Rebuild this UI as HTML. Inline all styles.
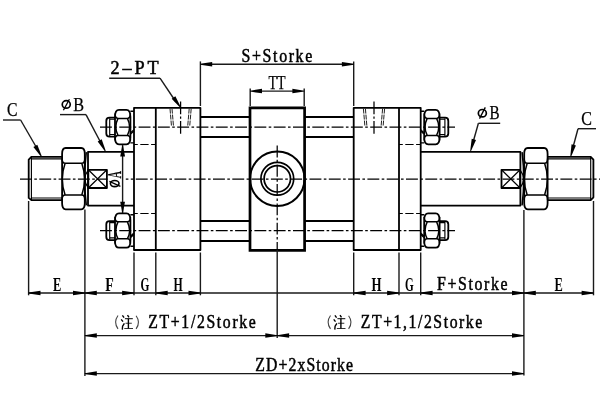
<!DOCTYPE html>
<html><head><meta charset="utf-8"><style>
html,body{margin:0;padding:0;background:#fff;}
svg{display:block;will-change:transform;}
.o{fill:none;stroke:#000;stroke-width:1.8;stroke-linejoin:round;}
.ot{fill:none;stroke:#000;stroke-width:2.7;}
.thin{fill:none;stroke:#000;stroke-width:0.9;}
.d{fill:none;stroke:#1a1a1a;stroke-width:1.4;}
.cl{fill:none;stroke:#000;stroke-width:1.25;stroke-dasharray:11.9 2.4 2.6 2.4;}
.hid{fill:none;stroke:#222;stroke-width:1;stroke-dasharray:5 1;}
.hd{fill:none;stroke:#000;stroke-width:1.15;stroke-dasharray:8.3 2.5;stroke-dashoffset:4.5;}
.ar{fill:#000;stroke:none;}
.t{font-family:"Liberation Serif",serif;fill:#000;stroke:#000;stroke-width:0.25;}
.tb{font-family:"Liberation Serif",serif;fill:#000;font-weight:bold;}
</style></head><body>
<svg width="600" height="418" viewBox="0 0 600 418">
<rect x="0" y="0" width="600" height="418" fill="#fff"/>

<line class="cl" x1="20" y1="179.1" x2="600" y2="179.1"/>
<line class="cl" x1="100" y1="127" x2="455" y2="127"/>
<line class="cl" x1="100" y1="230.5" x2="455" y2="230.5"/>
<path class="o" d="M62.1,156.8 H31.4 L28.7,159.7 V197.9 L31.4,200.1 H62.1"/>
<path class="o" style="stroke-width:1.15" d="M31.4,156.8 V200.1 M31.4,158.8 H62.1 M31.4,198 H62.1"/>
<path class="o" d="M65.6,148.0 H81.3 Q84.8,148.0 84.8,153.95 V203.35000000000002 Q84.8,209.3 81.3,209.3 H65.6 Q62.1,209.3 62.1,203.35000000000002 V153.95 Q62.1,148.0 65.6,148.0 Z"/>
<path class="o" style="stroke-width:1.5" d="M65.1,163.3 H81.8 M65.1,195.1 H81.8 M62.1,158.5 Q62.1,163.3 65.1,163.3 M84.8,158.5 Q84.8,163.3 81.8,163.3 M62.1,199.9 Q62.1,195.1 65.1,195.1 M84.8,199.9 Q84.8,195.1 81.8,195.1 M65.1,163.3 Q59.5,179.2 65.1,195.1 M81.8,163.3 Q87.39999999999999,179.2 81.8,195.1"/>
<path class="o" d="M134,151.8 H88 V205.6 H134"/>
<path class="o" style="stroke-width:1.5" d="M86.3,152.2 Q83.1,178.9 86.3,205.4"/>
<path class="o" d="M88.3,169.8 H106.9 V188 H88.3 Z"/>
<path class="o" style="stroke-width:1.2" d="M88.3,169.8 L106.9,188 M106.9,169.8 L88.3,188 M88.3,169.8 Q81.5,178.9 88.3,188"/>
<rect x="107.9" y="177.4" width="17.9" height="3.4" fill="#fff"/>
<line class="d" x1="122.6" y1="144.5" x2="122.6" y2="213.4"/>
<polygon class="ar" points="123.05,146.00 125.00,156.50 120.20,156.50 122.15,146.00"/>
<polygon class="ar" points="122.15,212.30 120.20,201.80 125.00,201.80 123.05,212.30"/>
<g transform="translate(121,187) rotate(-90)"><ellipse cx="3.45" cy="-6.3" rx="3.1" ry="4.3" fill="none" stroke="#000" stroke-width="1.6"/><line x1="0.6" y1="-0.6" x2="5.6" y2="-11.6" stroke="#000" stroke-width="1.2"/><text class="t" x="8.4" y="-0.2" font-size="18.5" textLength="7.6" lengthAdjust="spacingAndGlyphs">A</text></g>
<path class="o" d="M134,107.8 H200.4 V250 H134 Z"/>
<line class="o" x1="155.8" y1="107.8" x2="155.8" y2="250"/>
<line class="hd" x1="134" y1="144.5" x2="155.8" y2="144.5"/>
<line class="hd" x1="134" y1="213.5" x2="155.8" y2="213.5"/>
<path class="hid" d="M170.0,108.6 L171.5,126.3 M172.0,108.6 L173.5,126.3"/>
<path class="hid" d="M189.2,108.6 L187.7,126.3 M191.2,108.6 L189.7,126.3"/>
<line class="cl" x1="180.6" y1="101.5" x2="180.6" y2="133.8" style="stroke-dasharray:12.8 2.2 2.2 2.2 20"/>
<path class="o" style="stroke-width:1.4" d="M130.4,111.3 H134 M130.4,142.9 H134"/>
<path class="o" style="stroke-width:1.2" d="M130.6,132.6 L134,129.6 M130.6,134.1 L134,131.1"/>
<path class="o" d="M119,109.89999999999999 H126.4 Q130.4,109.89999999999999 130.4,116.69999999999999 V137.49999999999997 Q130.4,144.29999999999998 126.4,144.29999999999998 H119 Q115,144.29999999999998 115,137.49999999999997 V116.69999999999999 Q115,109.89999999999999 119,109.89999999999999 Z"/>
<path class="o" style="stroke-width:1.5" d="M118,118.39999999999999 H127.4 M118,135.4 H127.4 M115,113.6 Q115,118.39999999999999 118,118.39999999999999 M130.4,113.6 Q130.4,118.39999999999999 127.4,118.39999999999999 M115,140.20000000000002 Q115,135.4 118,135.4 M130.4,140.20000000000002 Q130.4,135.4 127.4,135.4 M118,118.39999999999999 Q113.6,127.1 118,135.4 M127.4,118.39999999999999 Q131.8,127.1 127.4,135.4"/>
<path class="o" d="M115.2,117.69999999999999 H109.5 Q106.3,117.69999999999999 106.3,120.89999999999999 V133.5 Q106.3,136.7 109.5,136.7 H115.2"/>
<path class="o" style="stroke-width:1.15" d="M109.7,118.29999999999998 V136.1 M109.7,119.19999999999999 H115.2 M109.7,134.5 H115.2"/>
<path class="o" style="stroke-width:1.4" d="M130.4,214.7 H134 M130.4,246.3 H134"/>
<path class="o" style="stroke-width:1.2" d="M130.6,236.0 L134,233.0 M130.6,237.5 L134,234.5"/>
<path class="o" d="M119,213.3 H126.4 Q130.4,213.3 130.4,220.10000000000002 V240.89999999999998 Q130.4,247.7 126.4,247.7 H119 Q115,247.7 115,240.89999999999998 V220.10000000000002 Q115,213.3 119,213.3 Z"/>
<path class="o" style="stroke-width:1.5" d="M118,221.8 H127.4 M118,238.8 H127.4 M115,217.0 Q115,221.8 118,221.8 M130.4,217.0 Q130.4,221.8 127.4,221.8 M115,243.60000000000002 Q115,238.8 118,238.8 M130.4,243.60000000000002 Q130.4,238.8 127.4,238.8 M118,221.8 Q113.6,230.5 118,238.8 M127.4,221.8 Q131.8,230.5 127.4,238.8"/>
<path class="o" d="M115.2,221.1 H109.5 Q106.3,221.1 106.3,224.29999999999998 V236.9 Q106.3,240.1 109.5,240.1 H115.2"/>
<path class="o" style="stroke-width:1.15" d="M109.7,221.7 V239.5 M109.7,222.6 H115.2 M109.7,237.9 H115.2"/>
<line class="o" x1="200.4" y1="117" x2="250" y2="117"/>
<line class="o" x1="200.4" y1="137" x2="250" y2="137"/>
<line class="o" x1="200.4" y1="221" x2="250" y2="221"/>
<line class="o" x1="200.4" y1="241" x2="250" y2="241"/>
<line class="o" x1="305" y1="117" x2="353.7" y2="117"/>
<line class="o" x1="305" y1="137" x2="353.7" y2="137"/>
<line class="o" x1="305" y1="221" x2="353.7" y2="221"/>
<line class="o" x1="305" y1="241" x2="353.7" y2="241"/>
<path class="ot" d="M250,107.8 H304.6 V250.3 H250 Z"/>
<circle class="o" cx="277.3" cy="178.8" r="27.2" style="stroke-width:2"/>
<circle class="ot" cx="277.3" cy="178.8" r="16.4" style="stroke-width:1.7"/>
<circle class="ot" cx="277.3" cy="178.8" r="13.2" style="stroke-width:1.7"/>
<line class="cl" x1="277.2" y1="145.5" x2="277.2" y2="250"/>
<line class="d" x1="277.2" y1="250" x2="277.2" y2="338"/>
<path class="o" d="M353.7,107.8 H420.7 V250 H353.7 Z"/>
<line class="o" x1="399" y1="107.8" x2="399" y2="250"/>
<line class="hd" x1="399" y1="144.5" x2="420.7" y2="144.5"/>
<line class="hd" x1="399" y1="213.5" x2="420.7" y2="213.5"/>
<path class="hid" d="M363.4,108.6 L364.9,126.3 M365.4,108.6 L366.9,126.3"/>
<path class="hid" d="M382.6,108.6 L381.1,126.3 M384.6,108.6 L383.1,126.3"/>
<line class="cl" x1="374" y1="101.5" x2="374" y2="133.8" style="stroke-dasharray:12.8 2.2 2.2 2.2 20"/>
<path class="o" style="stroke-width:1.4" d="M130.4,111.3 H134 M130.4,142.9 H134" transform="translate(554.6,0) scale(-1,1)"/>
<path class="o" style="stroke-width:1.2" d="M130.6,132.6 L134,129.6 M130.6,134.1 L134,131.1" transform="translate(554.6,0) scale(-1,1)"/>
<path class="o" d="M119,109.89999999999999 H126.4 Q130.4,109.89999999999999 130.4,116.69999999999999 V137.49999999999997 Q130.4,144.29999999999998 126.4,144.29999999999998 H119 Q115,144.29999999999998 115,137.49999999999997 V116.69999999999999 Q115,109.89999999999999 119,109.89999999999999 Z" transform="translate(554.6,0) scale(-1,1)"/>
<path class="o" style="stroke-width:1.5" d="M118,118.39999999999999 H127.4 M118,135.4 H127.4 M115,113.6 Q115,118.39999999999999 118,118.39999999999999 M130.4,113.6 Q130.4,118.39999999999999 127.4,118.39999999999999 M115,140.20000000000002 Q115,135.4 118,135.4 M130.4,140.20000000000002 Q130.4,135.4 127.4,135.4 M118,118.39999999999999 Q113.6,127.1 118,135.4 M127.4,118.39999999999999 Q131.8,127.1 127.4,135.4" transform="translate(554.6,0) scale(-1,1)"/>
<path class="o" d="M115.2,117.69999999999999 H109.5 Q106.3,117.69999999999999 106.3,120.89999999999999 V133.5 Q106.3,136.7 109.5,136.7 H115.2" transform="translate(554.6,0) scale(-1,1)"/>
<path class="o" style="stroke-width:1.15" d="M109.7,118.29999999999998 V136.1 M109.7,119.19999999999999 H115.2 M109.7,134.5 H115.2" transform="translate(554.6,0) scale(-1,1)"/>
<path class="o" style="stroke-width:1.4" d="M130.4,214.7 H134 M130.4,246.3 H134" transform="translate(554.6,0) scale(-1,1)"/>
<path class="o" style="stroke-width:1.2" d="M130.6,236.0 L134,233.0 M130.6,237.5 L134,234.5" transform="translate(554.6,0) scale(-1,1)"/>
<path class="o" d="M119,213.3 H126.4 Q130.4,213.3 130.4,220.10000000000002 V240.89999999999998 Q130.4,247.7 126.4,247.7 H119 Q115,247.7 115,240.89999999999998 V220.10000000000002 Q115,213.3 119,213.3 Z" transform="translate(554.6,0) scale(-1,1)"/>
<path class="o" style="stroke-width:1.5" d="M118,221.8 H127.4 M118,238.8 H127.4 M115,217.0 Q115,221.8 118,221.8 M130.4,217.0 Q130.4,221.8 127.4,221.8 M115,243.60000000000002 Q115,238.8 118,238.8 M130.4,243.60000000000002 Q130.4,238.8 127.4,238.8 M118,221.8 Q113.6,230.5 118,238.8 M127.4,221.8 Q131.8,230.5 127.4,238.8" transform="translate(554.6,0) scale(-1,1)"/>
<path class="o" d="M115.2,221.1 H109.5 Q106.3,221.1 106.3,224.29999999999998 V236.9 Q106.3,240.1 109.5,240.1 H115.2" transform="translate(554.6,0) scale(-1,1)"/>
<path class="o" style="stroke-width:1.15" d="M109.7,221.7 V239.5 M109.7,222.6 H115.2 M109.7,237.9 H115.2" transform="translate(554.6,0) scale(-1,1)"/>
<path class="o" d="M187.7,151.8 H88 V205.6 H187.7" transform="translate(608.4,0) scale(-1,1)"/>
<path class="o" style="stroke-width:1.5" d="M86.3,152.2 Q83.1,178.9 86.3,205.4" transform="translate(608.4,0) scale(-1,1)"/>
<path class="o" d="M88.3,169.8 H106.9 V188 H88.3 Z" transform="translate(608.4,0) scale(-1,1)"/>
<path class="o" style="stroke-width:1.2" d="M88.3,169.8 L106.9,188 M106.9,169.8 L88.3,188 M88.3,169.8 Q81.5,178.9 88.3,188" transform="translate(608.4,0) scale(-1,1)"/>
<path class="o" d="M527.7,148.0 H544.1 Q547.6,148.0 547.6,153.95 V203.35000000000002 Q547.6,209.3 544.1,209.3 H527.7 Q524.2,209.3 524.2,203.35000000000002 V153.95 Q524.2,148.0 527.7,148.0 Z"/>
<path class="o" style="stroke-width:1.5" d="M527.2,163.3 H544.6 M527.2,195.1 H544.6 M524.2,158.5 Q524.2,163.3 527.2,163.3 M547.6,158.5 Q547.6,163.3 544.6,163.3 M524.2,199.9 Q524.2,195.1 527.2,195.1 M547.6,199.9 Q547.6,195.1 544.6,195.1 M527.2,163.3 Q521.6,179.2 527.2,195.1 M544.6,163.3 Q550.2,179.2 544.6,195.1"/>
<path class="o" d="M547.6,156.8 H590.7 L593.4,159.7 V197.3 L590.7,200.1 H547.6"/>
<path class="o" style="stroke-width:1.15" d="M590.7,156.8 V200.1 M547.6,158.8 H590.7 M547.6,198 H590.7"/>
<line class="d" x1="200.4" y1="61.4" x2="200.4" y2="106"/>
<line class="d" x1="353.7" y1="61.4" x2="353.7" y2="106"/>
<line class="d" x1="211" y1="64.3" x2="343" y2="64.3"/>
<polygon class="ar" points="200.20,63.85 212.20,62.05 212.20,66.55 200.20,64.75"/>
<polygon class="ar" points="353.90,64.75 341.90,66.55 341.90,62.05 353.90,63.85"/>
<text class="t" x="0" y="0" font-size="18" textLength="80.23" lengthAdjust="spacing" style="stroke-width:0.5" transform="translate(241.6,61.8) scale(0.88,1)" >S+Storke</text>
<line class="d" x1="250.2" y1="88.6" x2="250.2" y2="106"/>
<line class="d" x1="304.2" y1="88.6" x2="304.2" y2="106"/>
<line class="d" x1="260" y1="91.1" x2="295" y2="91.1"/>
<polygon class="ar" points="250.00,90.65 262.00,88.85 262.00,93.35 250.00,91.55"/>
<polygon class="ar" points="304.40,91.55 292.40,93.35 292.40,88.85 304.40,90.65"/>
<text class="t" x="268.4" y="88.9" font-size="18.5" textLength="17.1" lengthAdjust="spacingAndGlyphs" >TT</text>
<text class="t" x="0" y="0" font-size="18.8" textLength="49.69" lengthAdjust="spacing" style="stroke-width:0.5" transform="translate(110.4,74.3) scale(0.97,1)" >2&#8211;PT</text>
<line class="d" x1="109.2" y1="78.2" x2="160" y2="78.2"/>
<line class="d" x1="160" y1="78.2" x2="176" y2="102"/>
<polygon class="ar" points="180.03,107.56 171.67,98.77 175.35,96.18 180.77,107.04"/>
<text class="t" x="7" y="116" font-size="18" textLength="10.5" lengthAdjust="spacingAndGlyphs" >C</text>
<line class="d" x1="3" y1="120" x2="20.6" y2="120"/>
<line class="d" x1="20.6" y1="120" x2="38.5" y2="151"/>
<polygon class="ar" points="40.91,156.52 33.40,146.99 37.31,144.76 41.69,156.08"/>
<ellipse cx="66.25" cy="104.4" rx="4.0" ry="3.7" fill="none" stroke="#000" stroke-width="1.7"/><line x1="63.4" y1="110.3" x2="69.4" y2="99.2" stroke="#000" stroke-width="1.3"/>
<text class="t" x="73.2" y="110.5" font-size="19" textLength="10.8" lengthAdjust="spacingAndGlyphs" >B</text>
<line class="d" x1="60" y1="114.6" x2="86" y2="114.6"/>
<line class="d" x1="86" y1="114.6" x2="102" y2="145"/>
<polygon class="ar" points="104.90,151.21 97.69,141.45 101.67,139.34 105.70,150.79"/>
<ellipse cx="482.35" cy="113.2" rx="4.0" ry="3.7" fill="none" stroke="#000" stroke-width="1.7"/><line x1="479.5" y1="118.6" x2="485.3" y2="107.4" stroke="#000" stroke-width="1.3"/>
<text class="t" x="489.6" y="119.05" font-size="19" textLength="10.1" lengthAdjust="spacingAndGlyphs" >B</text>
<line class="d" x1="478.4" y1="123.3" x2="500.2" y2="123.3"/>
<line class="d" x1="478.4" y1="123.3" x2="472" y2="146"/>
<polygon class="ar" points="470.17,150.88 471.69,138.84 476.02,140.06 471.03,151.12"/>
<text class="t" x="581.3" y="124.7" font-size="18" textLength="10.7" lengthAdjust="spacingAndGlyphs" >C</text>
<line class="d" x1="578" y1="128.7" x2="596" y2="128.7"/>
<line class="d" x1="578" y1="128.7" x2="572" y2="151"/>
<polygon class="ar" points="570.26,156.39 571.57,144.32 575.92,145.46 571.14,156.61"/>
<line class="d" x1="28.6" y1="201" x2="28.6" y2="295.3"/>
<line class="d" x1="134" y1="252.5" x2="134" y2="295.3"/>
<line class="d" x1="155.8" y1="252.5" x2="155.8" y2="295.3"/>
<line class="d" x1="200.4" y1="252.5" x2="200.4" y2="295.3"/>
<line class="d" x1="353.7" y1="252.5" x2="353.7" y2="295.3"/>
<line class="d" x1="399" y1="252.5" x2="399" y2="295.3"/>
<line class="d" x1="420.7" y1="252.5" x2="420.7" y2="295.3"/>
<line class="d" x1="593.5" y1="201" x2="593.5" y2="295.3"/>
<line class="d" x1="84.9" y1="209.5" x2="84.9" y2="376"/>
<line class="d" x1="523.9" y1="210" x2="523.9" y2="375.6"/>
<line class="d" x1="28.6" y1="293" x2="593.5" y2="293"/>
<polygon class="ar" points="28.50,292.55 40.50,290.75 40.50,295.25 28.50,293.45"/>
<polygon class="ar" points="85.00,293.45 73.00,295.25 73.00,290.75 85.00,292.55"/>
<polygon class="ar" points="84.80,292.55 96.80,290.75 96.80,295.25 84.80,293.45"/>
<polygon class="ar" points="134.10,293.45 122.10,295.25 122.10,290.75 134.10,292.55"/>
<polygon class="ar" points="155.70,292.55 167.70,290.75 167.70,295.25 155.70,293.45"/>
<polygon class="ar" points="200.50,293.45 188.50,295.25 188.50,290.75 200.50,292.55"/>
<polygon class="ar" points="353.60,292.55 365.60,290.75 365.60,295.25 353.60,293.45"/>
<polygon class="ar" points="399.10,293.45 387.10,295.25 387.10,290.75 399.10,292.55"/>
<polygon class="ar" points="420.60,292.55 432.60,290.75 432.60,295.25 420.60,293.45"/>
<polygon class="ar" points="524.00,293.45 512.00,295.25 512.00,290.75 524.00,292.55"/>
<polygon class="ar" points="523.80,292.55 535.80,290.75 535.80,295.25 523.80,293.45"/>
<polygon class="ar" points="593.60,293.45 581.60,295.25 581.60,290.75 593.60,292.55"/>
<text class="tb" x="53" y="291" font-size="18.5" textLength="8.3" lengthAdjust="spacingAndGlyphs" >E</text>
<text class="tb" x="105.3" y="291" font-size="18.5" textLength="8.5" lengthAdjust="spacingAndGlyphs" >F</text>
<text class="tb" x="140.4" y="291" font-size="18.5" textLength="8.9" lengthAdjust="spacingAndGlyphs" >G</text>
<text class="tb" x="173.6" y="291" font-size="18.5" textLength="9.2" lengthAdjust="spacingAndGlyphs" >H</text>
<text class="tb" x="371.5" y="291" font-size="18.5" textLength="10" lengthAdjust="spacingAndGlyphs" >H</text>
<text class="tb" x="405" y="291" font-size="18.5" textLength="8.7" lengthAdjust="spacingAndGlyphs" >G</text>
<text class="t" x="0" y="0" font-size="18" textLength="80.11" lengthAdjust="spacing" style="stroke-width:0.5" transform="translate(437,290.3) scale(0.88,1)" >F+Storke</text>
<text class="tb" x="554.5" y="291" font-size="18.5" textLength="8.3" lengthAdjust="spacingAndGlyphs" >E</text>
<line class="d" x1="84.9" y1="335.6" x2="277.2" y2="335.6"/>
<polygon class="ar" points="84.80,335.15 96.80,333.35 96.80,337.85 84.80,336.05"/>
<polygon class="ar" points="277.30,336.05 265.30,337.85 265.30,333.35 277.30,335.15"/>
<line class="d" x1="277.2" y1="335.6" x2="523.9" y2="335.6"/>
<polygon class="ar" points="277.10,335.15 289.10,333.35 289.10,337.85 277.10,336.05"/>
<polygon class="ar" points="524.00,336.05 512.00,337.85 512.00,333.35 524.00,335.15"/>
<text class="t" x="0" y="0" font-size="18.3" textLength="125.00" lengthAdjust="spacing" style="stroke-width:0.5" transform="translate(148.3,328.3) scale(0.86,1)" >ZT+1/2Storke</text>
<text class="t" x="0" y="0" font-size="18.3" textLength="141.28" lengthAdjust="spacing" style="stroke-width:0.5" transform="translate(360.8,328.3) scale(0.86,1)" >ZT+1,1/2Storke</text>
<line class="d" x1="84.9" y1="373.6" x2="523.9" y2="373.6"/>
<polygon class="ar" points="84.80,373.15 96.80,371.35 96.80,375.85 84.80,374.05"/>
<polygon class="ar" points="524.00,374.05 512.00,375.85 512.00,371.35 524.00,373.15"/>
<text class="t" x="0" y="0" font-size="18.3" textLength="113.84" lengthAdjust="spacing" style="stroke-width:0.5" transform="translate(255.2,371.3) scale(0.86,1)" >ZD+2xStorke</text>
<g transform="translate(0,0)">
<path d="M118,315.5 Q113.2,322.2 118,328.9 M136.1,315.7 Q140.9,322.3 136.1,328.9" fill="none" stroke="#444" stroke-width="1.1"/>
<path d="M122.4,315.4 L124.1,317.6 M121.2,319.4 L123,321.6 M122.3,329.6 L122.6,326.2 L124.4,323.4 M127.5,315.2 L129,317.3" fill="none" stroke="#000" stroke-width="1.4"/>
<path d="M124.9,318.6 H132.8 M125.5,323.2 H131.8 M124.3,328.5 H133" fill="none" stroke="#333" stroke-width="1.1"/>
<path d="M128.4,318.6 V328.5" fill="none" stroke="#000" stroke-width="1.4"/>
</g>
<g transform="translate(212.5,0)">
<path d="M118,315.5 Q113.2,322.2 118,328.9 M136.1,315.7 Q140.9,322.3 136.1,328.9" fill="none" stroke="#444" stroke-width="1.1"/>
<path d="M122.4,315.4 L124.1,317.6 M121.2,319.4 L123,321.6 M122.3,329.6 L122.6,326.2 L124.4,323.4 M127.5,315.2 L129,317.3" fill="none" stroke="#000" stroke-width="1.4"/>
<path d="M124.9,318.6 H132.8 M125.5,323.2 H131.8 M124.3,328.5 H133" fill="none" stroke="#333" stroke-width="1.1"/>
<path d="M128.4,318.6 V328.5" fill="none" stroke="#000" stroke-width="1.4"/>
</g>
</svg></body></html>
